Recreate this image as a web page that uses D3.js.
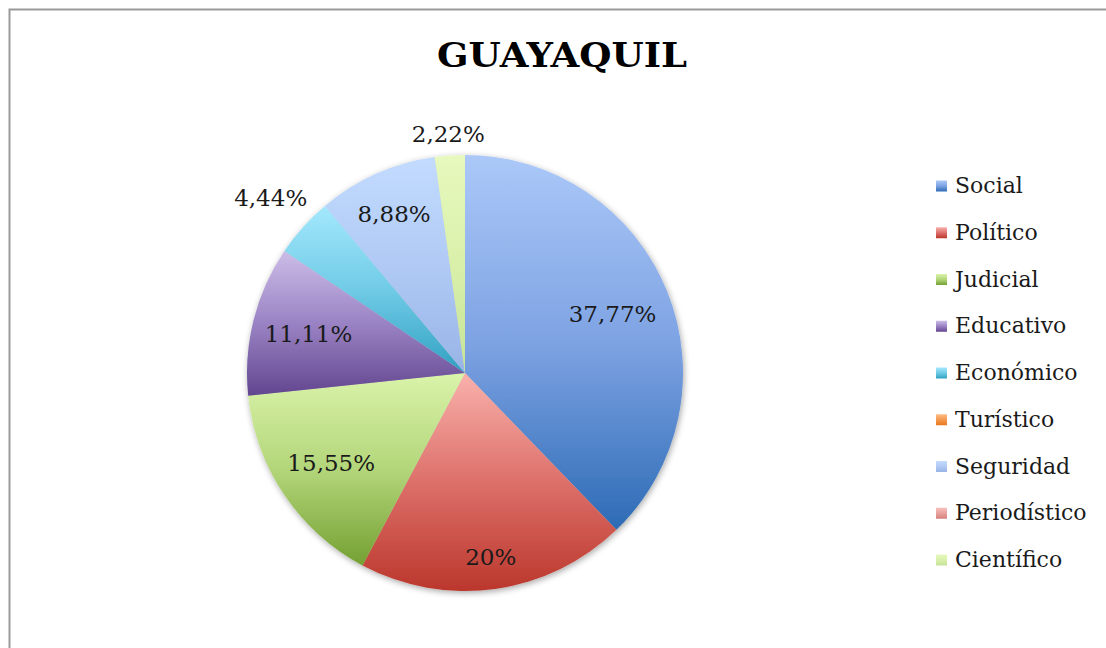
<!DOCTYPE html>
<html>
<head>
<meta charset="utf-8">
<script src="https://cdn.jsdelivr.net/npm/d3@7"></script>
<style>
  body { margin: 0; background: #fff; }
  svg { display: block; }
</style>
</head>
<body>
<div id="chart"></div>
<script>
// data
var categories = ["Social", "Político", "Judicial", "Educativo", "Económico",
                  "Turístico", "Seguridad", "Periodístico", "Científico"];
var values = [37.77, 20, 15.55, 11.11, 4.44, 0, 8.88, 0, 2.22];
var valueLabels = ["37,77%", "20%", "15,55%", "11,11%", "4,44%", "", "8,88%", "", "2,22%"];
var chartTitle = "GUAYAQUIL";

// gradient colours per category: light (top), middle, dark (bottom)
var gradColors = [
    ["#abc8f8", "#7ea3e3", "#2d6bb5"],
    ["#f9b1ac", "#dd706a", "#bb372c"],
    ["#daf3aa", "#b3d67a", "#74a032"],
    ["#ccbde7", "#9a83c4", "#62468f"],
    ["#a4e8fd", "#70cbe6", "#31a0c2"],
    ["#fdbd86", "#f59a4f", "#e97720"],
    ["#c3dbfe", "#b0caf5", "#98b4e6"],
    ["#f9c1be", "#e8a19d", "#d4817d"],
    ["#e7f9be", "#d9f0aa", "#c6e398"]
];
// how far from the centre each label sits (fraction of radius)
var labelRadius = [0.73, 0.85, 0.74, 0.74, 1.2, 0, 0.8, 0, 1.1];

var width = 1106, height = 648;
var cx = 465, cy = 373, r = 218;

var svg = d3.select("#chart").append("svg")
    .attr("width", width)
    .attr("height", height);

var defs = svg.append("defs");
gradColors.forEach(function (c, i) {
    var g = defs.append("linearGradient")
        .attr("id", "grad" + i)
        .attr("x1", 0).attr("y1", 0).attr("x2", 0).attr("y2", 1);
    g.append("stop").attr("offset", "0%").attr("stop-color", c[0]);
    g.append("stop").attr("offset", "50%").attr("stop-color", c[1]);
    g.append("stop").attr("offset", "100%").attr("stop-color", c[2]);
});

var shadow = defs.append("filter").attr("id", "shadow")
    .attr("x", "-10%").attr("y", "-10%").attr("width", "120%").attr("height", "120%");
shadow.append("feDropShadow")
    .attr("dx", 1).attr("dy", 2).attr("stdDeviation", 3)
    .attr("flood-color", "#000").attr("flood-opacity", 0.35);

// outer frame (only left & top visible in the crop)
svg.append("rect")
    .attr("x", 9.5).attr("y", 9.5)
    .attr("width", 1300).attr("height", 1000)
    .attr("fill", "none")
    .attr("stroke", "#9a9a9a")
    .attr("stroke-width", 2);

// title
svg.append("text")
    .attr("x", 562)
    .attr("y", 67)
    .attr("text-anchor", "middle")
    .attr("font-family", "'DejaVu Serif', serif")
    .attr("font-weight", "bold")
    .attr("font-size", 34)
    .attr("textLength", 250)
    .attr("lengthAdjust", "spacingAndGlyphs")
    .attr("fill", "#000")
    .text(chartTitle);

// pie
var data = categories.map(function (c, i) { return { name: c, value: values[i], idx: i }; });
var pie = d3.pie().sort(null).value(function (d) { return d.value; });
var arcs = pie(data);
var arc = d3.arc().innerRadius(0).outerRadius(r);

var pieG = svg.append("g")
    .attr("transform", "translate(" + cx + "," + cy + ")")
    .attr("filter", "url(#shadow)");

pieG.selectAll("path")
    .data(arcs.filter(function (d) { return d.data.value > 0; }))
    .enter()
    .append("path")
    .attr("d", arc)
    .attr("fill", function (d) { return "url(#grad" + d.data.idx + ")"; });

var labelG = svg.append("g")
    .attr("transform", "translate(" + cx + "," + cy + ")");

labelG.selectAll("text")
    .data(arcs.filter(function (d) { return d.data.value > 0; }))
    .enter()
    .append("text")
    .attr("transform", function (d) {
        var k = labelRadius[d.data.idx] * r;
        var la = d3.arc().innerRadius(k).outerRadius(k);
        return "translate(" + la.centroid(d) + ")";
    })
    .attr("dy", "0.36em")
    .attr("text-anchor", "middle")
    .attr("font-family", "'DejaVu Serif', serif")
    .attr("font-size", 23)
    .attr("fill", "#1a1a1a")
    .text(function (d) { return valueLabels[d.data.idx]; });

// legend
var legendY = d3.scalePoint()
    .domain(categories)
    .range([186, 560]);

var legend = svg.append("g");
var item = legend.selectAll("g")
    .data(categories)
    .enter()
    .append("g")
    .attr("transform", function (d) { return "translate(936," + legendY(d) + ")"; });

item.append("rect")
    .attr("x", 0).attr("y", -5.5)
    .attr("width", 11).attr("height", 11)
    .attr("fill", function (d, i) { return "url(#grad" + i + ")"; });

item.append("text")
    .attr("x", 19)
    .attr("y", 7)
    .attr("font-family", "'DejaVu Serif', serif")
    .attr("font-size", 22)
    .attr("fill", "#1a1a1a")
    .text(function (d) { return d; });
</script>
</body>
</html>
